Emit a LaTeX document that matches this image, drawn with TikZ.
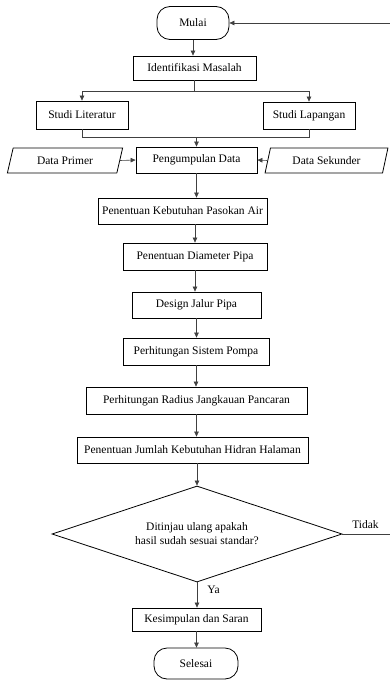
\documentclass[tikz,border=0pt]{standalone}
\usepackage{fontspec}
\setmainfont{Liberation Serif}
\usetikzlibrary{arrows.meta,shapes.geometric,calc}
\begin{document}
\begin{tikzpicture}[x=1pt,y=-1pt,
  every node/.style={font=\fontsize{11.5}{14}\selectfont},
  box/.style={draw=black,line width=0.8pt,rectangle,inner sep=0pt},
  term/.style={box,rounded corners=13pt},
  io/.style={draw=black,line width=0.8pt,trapezium,trapezium left angle=68,trapezium right angle=112,inner sep=0pt,trapezium stretches=true},
  dia/.style={draw=black,line width=0.8pt,diamond,aspect=3,inner sep=0pt,align=center},
  conn/.style={draw=black!75,line width=0.6pt},
  arr/.style={conn,-{Triangle[length=5pt,width=4.5pt]}},
  lbl/.style={inner sep=0pt}]
\useasboundingbox (0,0) rectangle (390,680);
\node[term,minimum width=72,minimum height=33] (mulai) at (193,23) {Mulai};
\node[box,minimum width=123,minimum height=24] (ident) at (194.5,68) {Identifikasi Masalah};
\node[box,minimum width=92,minimum height=28] (lit) at (82,115) {Studi Literatur};
\node[box,minimum width=92,minimum height=27] (lap) at (309,115.5) {Studi Lapangan};
\node[box,minimum width=121,minimum height=26] (peng) at (196.5,160) {Pengumpulan Data};
\node[io,minimum width=116,minimum height=25] (prim) at (65,160.5) {Data Primer};
\node[io,minimum width=123,minimum height=25] (sek) at (326.5,160.5) {Data Sekunder};
\node[box,minimum width=169,minimum height=26] (keb) at (182.5,211) {Penentuan Kebutuhan Pasokan Air};
\node[box,minimum width=144,minimum height=27] (diam) at (195,256.5) {Penentuan Diameter Pipa};
\node[box,minimum width=129,minimum height=26] (design) at (196.5,305) {Design Jalur Pipa};
\node[box,minimum width=146,minimum height=27] (pompa) at (196,351.5) {Perhitungan Sistem Pompa};
\node[box,minimum width=221,minimum height=27] (radius) at (196.5,400.5) {Perhitungan Radius Jangkauan Pancaran};
\node[box,minimum width=231,minimum height=26] (hidran) at (192.5,450) {Penentuan Jumlah Kebutuhan Hidran Halaman};
\node[dia,minimum width=290,minimum height=96] (dec) at (197,534) {Ditinjau ulang apakah\\hasil sudah sesuai standar?};
\node[box,minimum width=129,minimum height=23] (kes) at (196.5,619.5) {Kesimpulan dan Saran};
\node[term,minimum width=84,minimum height=31] (sel) at (196,663.5) {Selesai};
\node[lbl] (tidak) at (365.5,525) {Tidak};
\node[lbl] (ya) at (213.5,590) {Ya};
% connectors
\draw[arr] (mulai.south) -- (mulai.south |- ident.north);
\draw[conn] (ident.south) -- ++(0,11) coordinate (j0);
\draw[arr] (j0) -| (lit.north);
\draw[arr] (j0) -| (lap.north);
\draw[conn] (lit.south) -- ++(0,8) coordinate (j1) -| (lap.south);
\draw[arr] (j1 -| peng.north) -- (peng.north);
\draw[arr] (prim.east) -- (peng.west);
\draw[arr] (sek.west) -- (peng.east);
\draw[arr] (peng.south) -- (peng.south |- keb.north);
\draw[arr] (keb.south -| diam.north) -- (diam.north);
\draw[arr] (diam.south) -- (diam.south |- design.north);
\draw[arr] (design.south) -- (design.south |- pompa.north);
\draw[arr] (pompa.south) -- (pompa.south |- radius.north);
\draw[arr] (radius.south) -- (radius.south |- hidran.north);
\draw[arr] (hidran.south -| dec.north) -- (dec.north);
\draw[arr] (dec.south) -- (dec.south |- kes.north);
\draw[arr] (kes.south) -- (kes.south |- sel.north);
\draw[arr] (dec.east) -- (394,534) |- (mulai.east);
\end{tikzpicture}
\end{document}
